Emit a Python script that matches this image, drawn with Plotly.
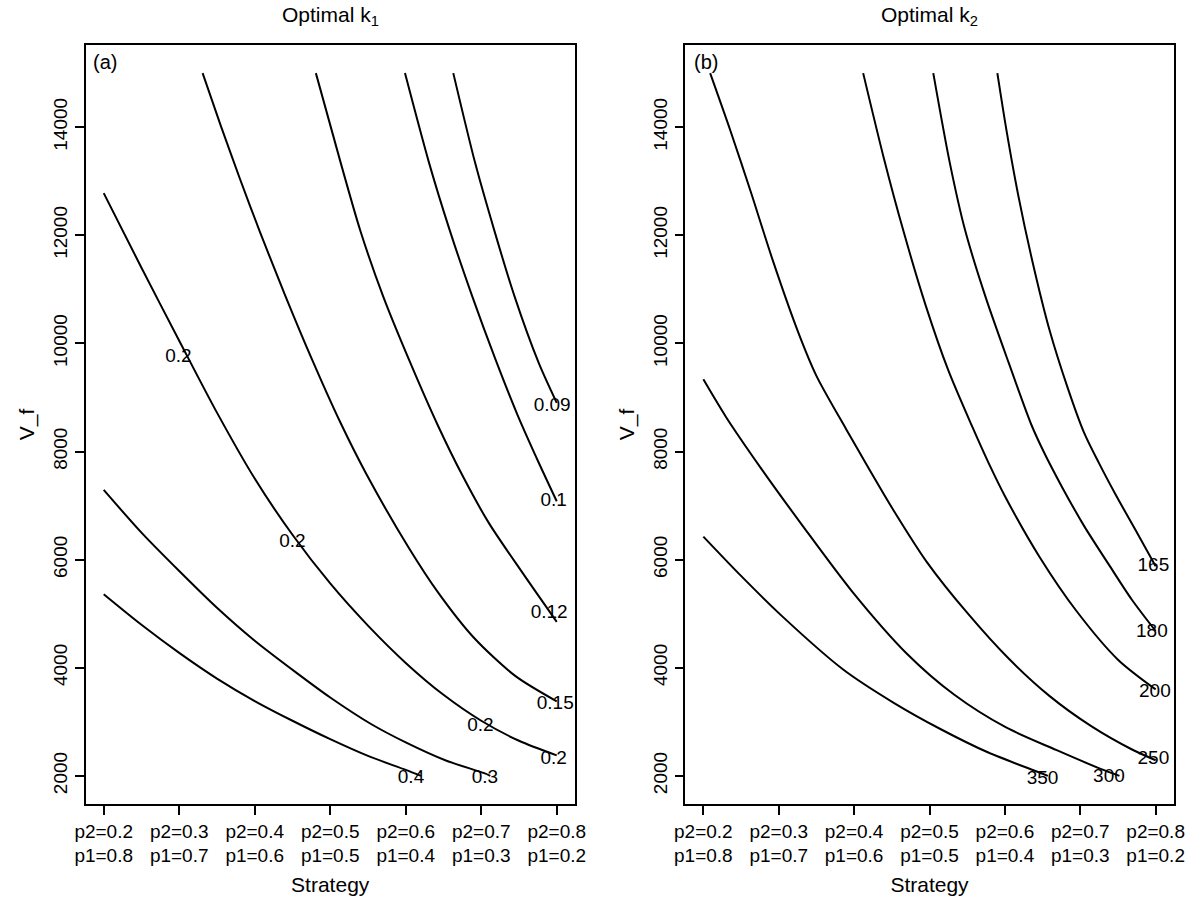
import plotly.graph_objects as go

# ---------------- data ----------------
strategy_pos = [1, 2, 3, 4, 5, 6, 7]
p2_vals = ["0.2", "0.3", "0.4", "0.5", "0.6", "0.7", "0.8"]
p1_vals = ["0.8", "0.7", "0.6", "0.5", "0.4", "0.3", "0.2"]
y_ticks = [2000, 4000, 6000, 8000, 10000, 12000, 14000]

# Panel (a): contours of optimal k1
k1_04_x = [1.0, 1.5, 2.0, 2.5, 3.0, 3.5, 4.0, 4.5, 5.0, 5.2]
k1_04_y = [5360, 4795, 4275, 3800, 3385, 3020, 2680, 2370, 2110, 2000]
k1_03_x = [1.0, 1.5, 2.0, 2.5, 3.0, 3.55, 4.0, 4.54, 5.0, 5.54, 6.04, 6.12]
k1_03_y = [7290, 6500, 5790, 5110, 4500, 3910, 3450, 2960, 2620, 2280, 2050, 2000]
k1_02_x = [1.0, 1.5, 2.0, 2.5, 3.0, 3.5, 4.0, 4.5, 5.0, 5.5, 6.0, 6.5, 7.0]
k1_02_y = [12780, 11400, 10050, 8720, 7500, 6460, 5560, 4780, 4090, 3500, 3020, 2650, 2380]
k1_015_x = [2.31, 2.55, 2.80, 3.07, 3.40, 3.76, 4.13, 4.48, 5.04, 5.43, 5.90, 6.45, 7.0]
k1_015_y = [15000, 14030, 13060, 12060, 10900, 9700, 8550, 7580, 6220, 5390, 4560, 3850, 3380]
k1_012_x = [3.81, 4.14, 4.40, 4.70, 5.06, 5.42, 5.75, 6.10, 6.55, 7.0]
k1_012_y = [15000, 13335, 12080, 10874, 9643, 8500, 7560, 6680, 5750, 4850]
k1_01_x = [4.99, 5.31, 5.58, 5.88, 6.19, 6.48, 6.75, 7.0]
k1_01_y = [15000, 13335, 12105, 10874, 9700, 8680, 7830, 7080]
k1_009_x = [5.63, 5.92, 6.17, 6.44, 6.76, 7.0]
k1_009_y = [15000, 13335, 12105, 10874, 9643, 8900]

k1_label_text = ["0.2", "0.2", "0.2", "0.2", "0.15", "0.12", "0.1", "0.09", "0.3", "0.4"]
k1_label_x = [1.99, 3.5, 5.99, 6.96, 6.98, 6.9, 6.96, 6.94, 6.05, 5.07]
k1_label_y = [9735, 6316, 2925, 2308, 3330, 5000, 7087, 8843, 1951, 1951]

# Panel (b): contours of optimal k2
k2_350_x = [1.0, 1.5, 2.04, 2.85, 3.52, 4.15, 4.78, 5.46, 5.57]
k2_350_y = [6427, 5700, 4960, 3973, 3357, 2863, 2432, 2062, 2000]
k2_300_x = [1.0, 1.3, 1.77, 2.31, 2.98, 3.70, 4.33, 5.01, 5.68, 6.27, 6.52]
k2_300_y = [9335, 8640, 7680, 6640, 5400, 4260, 3500, 2900, 2480, 2130, 2000]
k2_250_x = [1.09, 1.36, 1.63, 1.92, 2.26, 2.5, 2.9, 3.16, 3.52, 3.97, 4.51, 5.05, 5.59, 6.14, 6.68, 7.0]
k2_250_y = [15000, 13930, 12800, 11540, 10200, 9400, 8400, 7770, 6920, 5946, 5000, 4170, 3480, 2925, 2493, 2290]
k2_200_x = [3.12, 3.39, 3.66, 3.95, 4.25, 4.57, 4.78, 5.01, 5.46, 5.95, 6.50, 7.0]
k2_200_y = [15000, 13450, 12050, 10700, 9500, 8450, 7800, 7150, 6050, 5050, 4150, 3600]
k2_180_x = [4.05, 4.27, 4.47, 4.74, 5.05, 5.35, 5.52, 5.75, 6.05, 6.39, 6.68, 7.0]
k2_180_y = [15000, 13335, 12105, 10874, 9643, 8500, 7981, 7364, 6625, 5885, 5268, 4680]
k2_165_x = [4.90, 5.02, 5.18, 5.37, 5.59, 5.84, 6.05, 6.25, 6.47, 6.72, 7.0]
k2_165_y = [15000, 13951, 12720, 11489, 10258, 9150, 8350, 7780, 7200, 6580, 5880]

k2_label_text = ["165", "180", "200", "250", "300", "350"]
k2_label_x = [6.97, 6.95, 6.99, 6.97, 6.38, 5.5]
k2_label_y = [5884, 4651, 3542, 2308, 1969, 1938]

# ---------------- figure ----------------
W, H = 1187, 897
FONT = "Liberation Sans, Arial, Helvetica, sans-serif"
fig = go.Figure()

line_style = dict(color="black", width=2, shape="spline", smoothing=0.8)

panel_a = [(k1_04_x, k1_04_y), (k1_03_x, k1_03_y), (k1_02_x, k1_02_y), (k1_015_x, k1_015_y),
           (k1_012_x, k1_012_y), (k1_01_x, k1_01_y), (k1_009_x, k1_009_y)]
panel_b = [(k2_350_x, k2_350_y), (k2_300_x, k2_300_y), (k2_250_x, k2_250_y),
           (k2_200_x, k2_200_y), (k2_180_x, k2_180_y), (k2_165_x, k2_165_y)]

for xs, ys in panel_a:
    fig.add_trace(go.Scatter(x=xs, y=ys, mode="lines", line=line_style,
                             xaxis="x", yaxis="y", showlegend=False, hoverinfo="skip"))
for xs, ys in panel_b:
    fig.add_trace(go.Scatter(x=xs, y=ys, mode="lines", line=line_style,
                             xaxis="x2", yaxis="y2", showlegend=False, hoverinfo="skip"))

# contour labels
fig.add_trace(go.Scatter(x=k1_label_x, y=k1_label_y, mode="text", text=k1_label_text,
                         textfont=dict(family=FONT, size=19, color="black"),
                         xaxis="x", yaxis="y", showlegend=False, hoverinfo="skip"))
fig.add_trace(go.Scatter(x=k2_label_x, y=k2_label_y, mode="text", text=k2_label_text,
                         textfont=dict(family=FONT, size=19, color="black"),
                         xaxis="x2", yaxis="y2", showlegend=False, hoverinfo="skip"))

tick_text = [f"p2={a}<br>p1={b}" for a, b in zip(p2_vals, p1_vals)]

xa = dict(range=[0.76, 7.24], tickmode="array", tickvals=strategy_pos, ticktext=tick_text,
          ticks="outside", ticklen=9, tickwidth=1.5, tickcolor="black",
          showline=True, linewidth=1.5, linecolor="black", mirror=True,
          showgrid=False, zeroline=False,
          tickfont=dict(family=FONT, size=19, color="black"),
          title=dict(text="Strategy", font=dict(family=FONT, size=21, color="black"), standoff=12))
ya = dict(range=[1480, 15520], tickmode="array", tickvals=y_ticks,
          ticktext=[str(v) for v in y_ticks], tickangle=-90,
          ticks="outside", ticklen=9, tickwidth=1.5, tickcolor="black",
          showline=True, linewidth=1.5, linecolor="black", mirror=True,
          showgrid=False, zeroline=False,
          tickfont=dict(family=FONT, size=19, color="black"),
          title=dict(text="V_f", font=dict(family=FONT, size=21, color="black"), standoff=10))

ydom = [1 - 804 / H, 1 - 45 / H]
fig.update_layout(
    width=W, height=H, margin=dict(l=0, r=0, t=0, b=0),
    paper_bgcolor="white", plot_bgcolor="white",
    font=dict(family=FONT, color="black"),
    xaxis=dict(xa, domain=[76 / W, 574.5 / W], anchor="y"),
    yaxis=dict(ya, domain=ydom, anchor="x"),
    xaxis2=dict(xa, domain=[687 / W, 1184.7 / W], anchor="y2"),
    yaxis2=dict(ya, domain=ydom, anchor="x2"),
)

annots = [
    dict(text="Optimal k<sub>1</sub>", x=(76 + 574.5) / 2 / W, y=1 - 16 / H),
    dict(text="Optimal k<sub>2</sub>", x=(687 + 1184.7) / 2 / W, y=1 - 16 / H),
]
for a in annots:
    fig.add_annotation(xref="paper", yref="paper", x=a["x"], y=a["y"], text=a["text"],
                       showarrow=False, xanchor="center", yanchor="middle",
                       font=dict(family=FONT, size=21, color="black"))
for txt, xp in [("(a)", 82), ("(b)", 694)]:
    fig.add_annotation(xref="paper", yref="paper", x=xp / W, y=1 - 62 / H, text=txt,
                       showarrow=False, xanchor="left", yanchor="middle",
                       font=dict(family=FONT, size=20, color="black"))

fig.write_html("out.html")
